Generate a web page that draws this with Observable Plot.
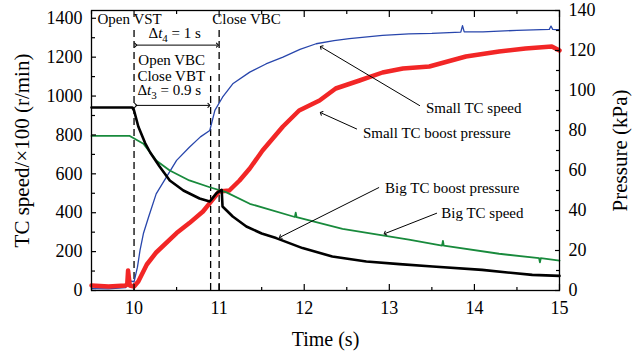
<!DOCTYPE html>
<html><head><meta charset="utf-8">
<script src="https://cdn.jsdelivr.net/npm/d3@7"></script>
<script src="https://cdn.jsdelivr.net/npm/@observablehq/plot@0.6"></script>
<style>body{margin:0;background:#fff}</style>
</head><body><div id="chart"></div>
<script>
// ---- data ----
const blueTime  = [9.5, 9.7, 9.9, 9.95, 10.0, 10.04, 10.07, 10.11, 10.17, 10.26, 10.38, 10.5, 10.65, 10.78, 10.89, 10.95, 11.04, 11.16, 11.36, 11.55, 11.75, 11.95, 12.14, 12.35, 12.53, 12.92, 13.23, 13.5, 13.84, 13.86, 13.88, 14.1, 14.5, 14.88, 14.9, 14.92, 15.0];
const smallTCSpeed = [10, 8, 15, 50, 45, 120, 206, 293, 377, 497, 583, 669, 737, 790, 823, 926, 994, 1063, 1123, 1165, 1200, 1240, 1269, 1285, 1295, 1312, 1320, 1322, 1329, 1362, 1330, 1330, 1338, 1343, 1360, 1343, 1341];

const redTime = [9.5, 9.7, 9.9, 9.92, 9.93, 9.95, 10.0, 10.05, 10.15, 10.26, 10.5, 10.65, 10.81, 10.89, 11.0, 11.12, 11.24, 11.36, 11.51, 11.75, 11.94, 12.18, 12.37, 12.65, 12.92, 13.16, 13.47, 13.9, 14.29, 14.6, 14.91, 15.0];
const smallTCBoost = [2.5, 2, 2.5, 3, 10, 2.5, 2, 4.5, 13, 19, 28.7, 33.7, 39.5, 43.7, 49.5, 50, 55, 61, 70, 82, 90, 95, 101, 105, 109, 111, 112, 117, 119.5, 121, 122, 120];

const blackTime = [9.5, 9.98, 10.0, 10.05, 10.13, 10.19, 10.3, 10.42, 10.58, 10.77, 10.89, 10.97, 11.03, 11.04, 11.16, 11.32, 11.5, 11.67, 11.98, 12.33, 12.73, 13.12, 13.51, 14.09, 14.68, 15.0];
const bigTCBoost = [91.5, 91.5, 90, 82, 73.7, 69, 62, 55, 50, 46, 44.5, 48.7, 50.3, 42, 37, 32, 28.5, 26.2, 21.2, 17, 14.5, 13.2, 12, 10.3, 7.8, 7.3];

const greenTime = [9.5, 9.95, 10.11, 10.26, 10.42, 10.65, 10.89, 11.08, 11.36, 11.89, 11.9, 11.91, 12.45, 12.92, 13.23, 13.62, 13.63, 13.64, 14.29, 14.76, 14.77, 14.78, 15.0];
const bigTCSpeed = [795, 795, 755, 669, 617, 566, 531, 506, 446, 378, 400, 377, 317, 283, 262, 231, 255, 231, 189, 166, 145, 166, 154];

const speedTicks = [0, 200, 400, 600, 800, 1000, 1200, 1400];
const speedMinor = [100, 300, 500, 700, 900, 1100, 1300];
const pressureTicks = [0, 20, 40, 60, 80, 100, 120, 140];
const pressureMinor = [10, 30, 50, 70, 90, 110, 130];
const timeTicks = [10, 11, 12, 13, 14, 15];
const timeMinor = [9.5, 10.5, 11.5, 12.5, 13.5, 14.5];

// ---- build ----
const K = 1440 / 140; // pressure -> speed axis units
const rows = (ts, vs, s = 1) => ts.map((t, i) => ({t, v: vs[i] * s}));
const F = "'Liberation Serif', 'DejaVu Serif', serif";
const AF = 15; // annotation font size

const chart = Plot.plot({
  width: 640, height: 362,
  marginLeft: 91, marginRight: 81, marginTop: 10, marginBottom: 72,
  style: {fontFamily: F, fontSize: "18px", background: "#fff", color: "#000"},
  x: {domain: [9.5, 15]},
  y: {domain: [0, 1440]},
  marks: [
    // event lines
    Plot.ruleX([10, 11], {x: d => d, y1: 0, y2: 1337, stroke: "#000", strokeWidth: 1.3, strokeDasharray: "7,4"}),
    Plot.ruleX([10.9], {x: d => d, y1: 0, y2: 1100, stroke: "#000", strokeWidth: 1.3, strokeDasharray: "7,4"}),
    // series
    Plot.line(rows(blueTime, smallTCSpeed), {x: "t", y: "v", stroke: "#2846ac", strokeWidth: 1.3}),
    Plot.line(rows(redTime, smallTCBoost, K), {x: "t", y: "v", stroke: "#f22626", strokeWidth: 4.5}),
    Plot.line(rows(greenTime, bigTCSpeed), {x: "t", y: "v", stroke: "#188a3c", strokeWidth: 1.8}),
    Plot.line(rows(blackTime, bigTCBoost, K), {x: "t", y: "v", stroke: "#000", strokeWidth: 2.6}),
    // annotations top-left
    Plot.text(["Open VST"], {x: 9.57, y: 1397, textAnchor: "start", fontSize: AF}),
    Plot.text(["Close VBC"], {x: 10.92, y: 1397, textAnchor: "start", fontSize: AF}),
    Plot.text(["Δt4 = 1 s"], {x: 10.17, y: 1322, textAnchor: "start", fontSize: AF}),
    Plot.link([0], {x1: 10.02, x2: 10.98, y1: 1262, y2: 1262, stroke: "#000", strokeWidth: 1, markerStart: "arrow", markerEnd: "arrow"}),
    Plot.text(["Open VBC"], {x: 10.05, y: 1183, textAnchor: "start", fontSize: AF}),
    Plot.text(["Close VBT"], {x: 10.04, y: 1103, textAnchor: "start", fontSize: AF}),
    Plot.text(["Δt3 = 0.9 s"], {x: 10.04, y: 1029, textAnchor: "start", fontSize: AF}),
    Plot.link([0], {x1: 10.02, x2: 10.88, y1: 952, y2: 952, stroke: "#000", strokeWidth: 1, markerStart: "arrow", markerEnd: "arrow"}),
    // annotations right
    Plot.text(["Small TC speed"], {x: 13.43, y: 936, textAnchor: "start", fontSize: AF}),
    Plot.link([0], {x1: 13.36, y1: 950, x2: 12.2, y2: 1252, stroke: "#000", strokeWidth: 1, markerEnd: "arrow"}),
    Plot.text(["Small TC boost pressure"], {x: 12.69, y: 808, textAnchor: "start", fontSize: AF}),
    Plot.link([0], {x1: 12.62, y1: 830, x2: 12.2, y2: 913, stroke: "#000", strokeWidth: 1, markerEnd: "arrow"}),
    Plot.text(["Big TC boost pressure"], {x: 12.95, y: 525, textAnchor: "start", fontSize: AF}),
    Plot.link([0], {x1: 12.88, y1: 530, x2: 11.72, y2: 275, stroke: "#000", strokeWidth: 1, markerEnd: "arrow"}),
    Plot.text(["Big TC speed"], {x: 13.61, y: 396, textAnchor: "start", fontSize: AF}),
    Plot.link([0], {x1: 13.56, y1: 398, x2: 12.95, y2: 293, stroke: "#000", strokeWidth: 1, markerEnd: "arrow"}),
    // axes: inward ticks
    Plot.axisY(speedTicks, {anchor: "left", tickSize: 5, dx: 5, fill: "none", strokeWidth: 1.2}),
    Plot.axisY(speedMinor, {anchor: "left", tickSize: 4, dx: 4, fill: "none", strokeWidth: 1.2}),
    Plot.axisY(pressureTicks.map(p => p * K), {anchor: "right", tickSize: 5, dx: -5, fill: "none", strokeWidth: 1.2}),
    Plot.axisY(pressureMinor.map(p => p * K), {anchor: "right", tickSize: 4, dx: -4, fill: "none", strokeWidth: 1.2}),
    Plot.axisX(timeTicks, {anchor: "bottom", tickSize: 6, dy: -6, fill: "none", strokeWidth: 1.2}),
    Plot.axisX(timeMinor, {anchor: "bottom", tickSize: 3, dy: -3, fill: "none", strokeWidth: 1.2}),
    Plot.axisX(timeTicks, {anchor: "top", tickSize: 6, dy: 6, fill: "none", strokeWidth: 1.2}),
    Plot.axisX(timeMinor, {anchor: "top", tickSize: 3, dy: 3, fill: "none", strokeWidth: 1.2}),
    // axes: labels
    Plot.axisY(speedTicks, {anchor: "left", tickSize: 0, tickPadding: 9, label: null, fontSize: 18, tickFormat: d => String(d)}),
    Plot.axisY(pressureTicks.map(p => p * K), {anchor: "right", tickSize: 0, tickPadding: 9, label: null, fontSize: 18, tickFormat: d => String(Math.round(d / K))}),
    Plot.axisX(timeTicks, {anchor: "bottom", tickSize: 0, tickPadding: 11, label: null, fontSize: 18, tickFormat: d => String(d)}),
    // axis titles
    Plot.text(["TC speed/×100 (r/min)"], {frameAnchor: "left", textAnchor: "middle", dx: -69, rotate: -90, fontSize: 21}),
    Plot.text(["Pressure (kPa)"], {frameAnchor: "right", textAnchor: "middle", dx: 61, rotate: -90, fontSize: 21}),
    Plot.text(["Time (s)"], {frameAnchor: "bottom", textAnchor: "middle", dy: 55, fontSize: 20}),
    Plot.frame({stroke: "#000", strokeWidth: 1.3})
  ]
});
document.getElementById("chart").appendChild(chart);

// subscripts and italic t for the Δt labels
const NS = "http://www.w3.org/2000/svg";
chart.querySelectorAll("text").forEach(el => {
  const s = el.textContent;
  const m = /^Δt(\d)(.*)$/.exec(s);
  if (!m) return;
  el.textContent = "";
  const add = (txt, attrs) => {
    const t = document.createElementNS(NS, "tspan");
    for (const k in attrs) t.setAttribute(k, attrs[k]);
    t.textContent = txt;
    el.appendChild(t);
  };
  add("Δ", {});
  add("t", {"font-style": "italic"});
  add(m[1], {dy: "4", "font-size": "11"});
  add(m[2], {dy: "-4"});
});
</script>
</body></html>
